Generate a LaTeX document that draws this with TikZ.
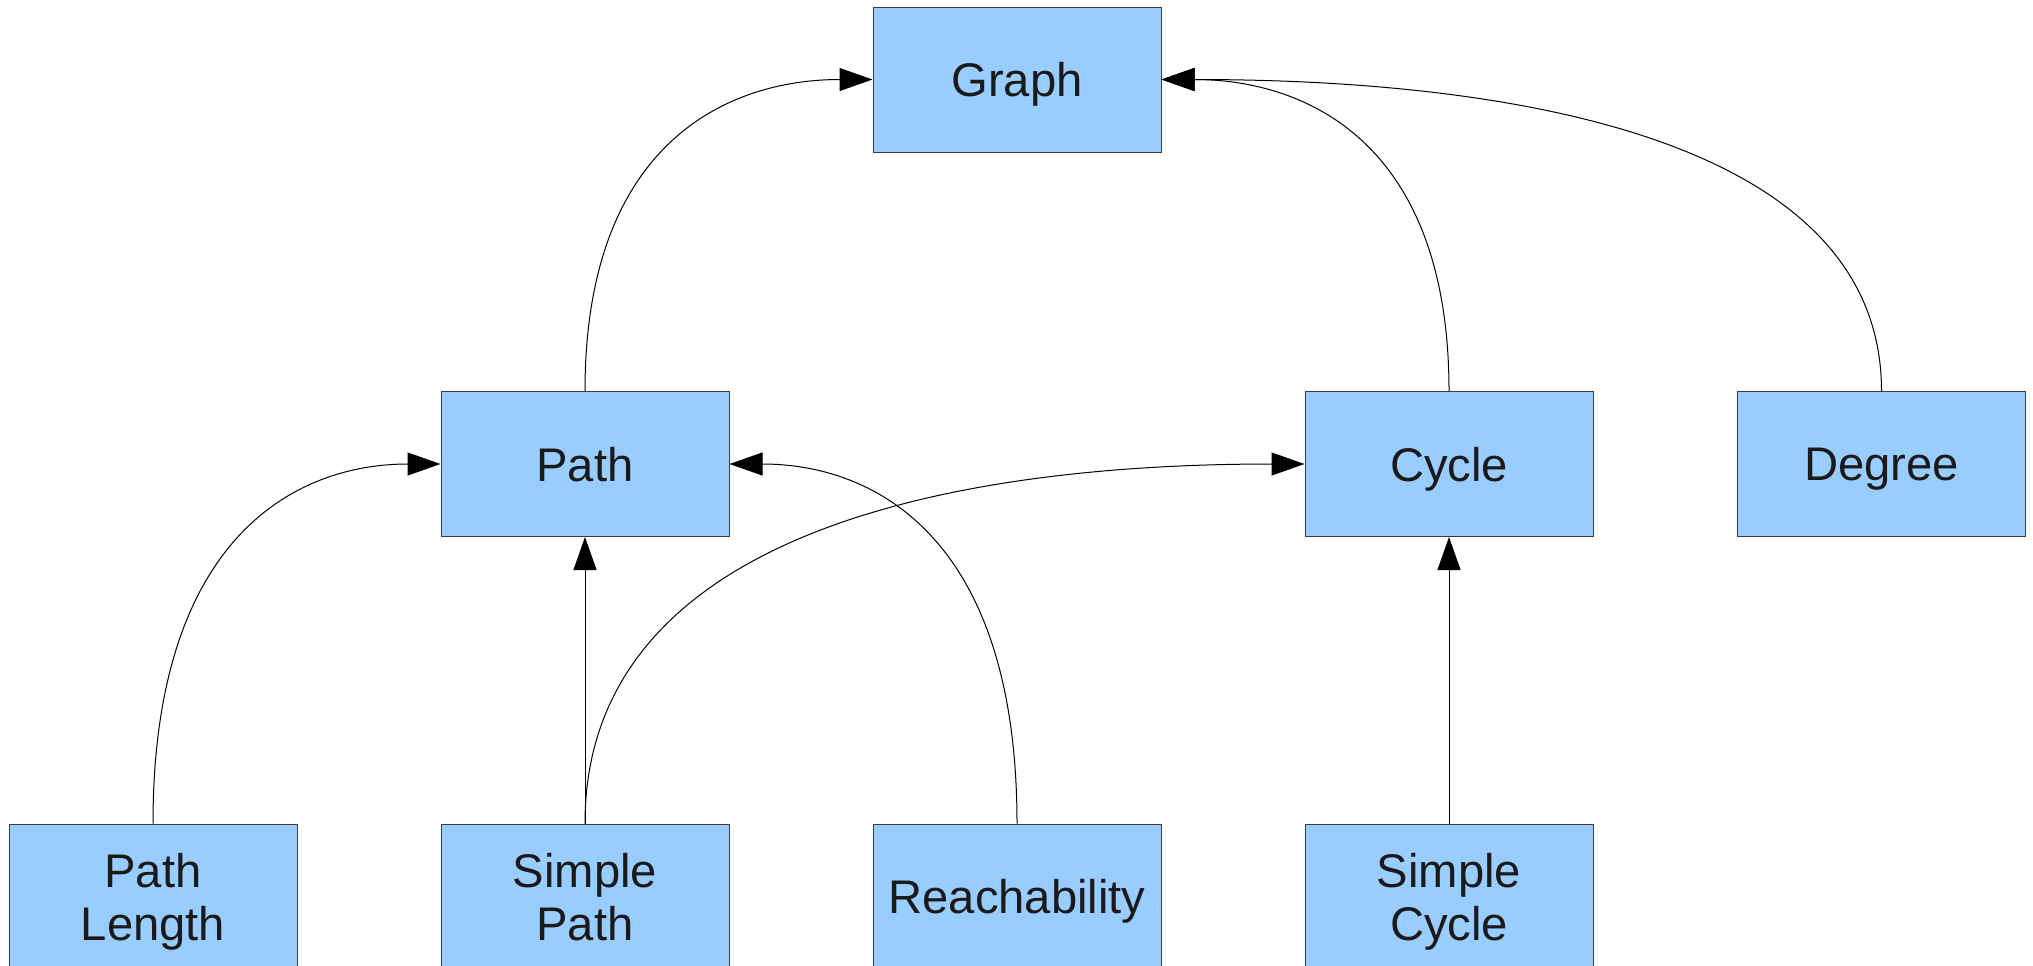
\documentclass[tikz,border=0pt]{standalone}
\usepackage{fontspec}
\setmainfont{Liberation Sans}
\usetikzlibrary{arrows.meta,calc}
\definecolor{boxfill}{HTML}{99CCFF}
\definecolor{boxline}{HTML}{3C3C3C}
\definecolor{txt}{HTML}{1A1A1A}
\tikzset{
  concept/.style={draw=boxline, fill=boxfill, line width=0.5pt, minimum width=144pt,
    minimum height=72.5pt, inner sep=0pt, text=txt, align=center, text depth=0pt,
    font=\fontsize{23.6pt}{26.5pt}\selectfont},
  conn/.style={draw=black, line width=0.5pt, -{Triangle[length=16.5pt,width=11.5pt]}},
  elbowcurve/.style={to path={.. controls ($(\tikztostart)!0.8!(\tikztostart |- \tikztotarget)$)
    and ($(\tikztostart |- \tikztotarget)!0.5!(\tikztotarget)$) .. (\tikztotarget) \tikztonodes}}
}
\begin{document}
\begin{tikzpicture}[x=0.5pt,y=-0.5pt]
\useasboundingbox (0,0) rectangle (2033,965);
\clip (0,0) rectangle (2033,965);
\node[concept] (g) at (1017,79.5) {Graph};
\node[concept] (p) at (585,464) {Path};
\node[concept] (c) at (1449,464) {Cycle};
\node[concept] (d) at (1881.5,464) {Degree};
\node[concept] (pl) at (153,896.5) {Path\\Length};
\node[concept] (sp) at (585,896.5) {Simple\\Path};
\node[concept] (r) at (1017,896.5) {Reachability};
\node[concept] (sc) at (1449,896.5) {Simple\\Cycle};
\draw[conn] (p.north) to[elbowcurve] (g.west);
\draw[conn] (c.north) to[elbowcurve] (g.east);
\draw[conn] (d.north) to[elbowcurve] (g.east);
\draw[conn] (pl.north) to[elbowcurve] (p.west);
\draw[conn] (sp.north) -- (p.south);
\draw[conn] (sp.north) to[elbowcurve] (c.west);
\draw[conn] (r.north) to[elbowcurve] (p.east);
\draw[conn] (sc.north) -- (c.south);
\end{tikzpicture}
\end{document}
